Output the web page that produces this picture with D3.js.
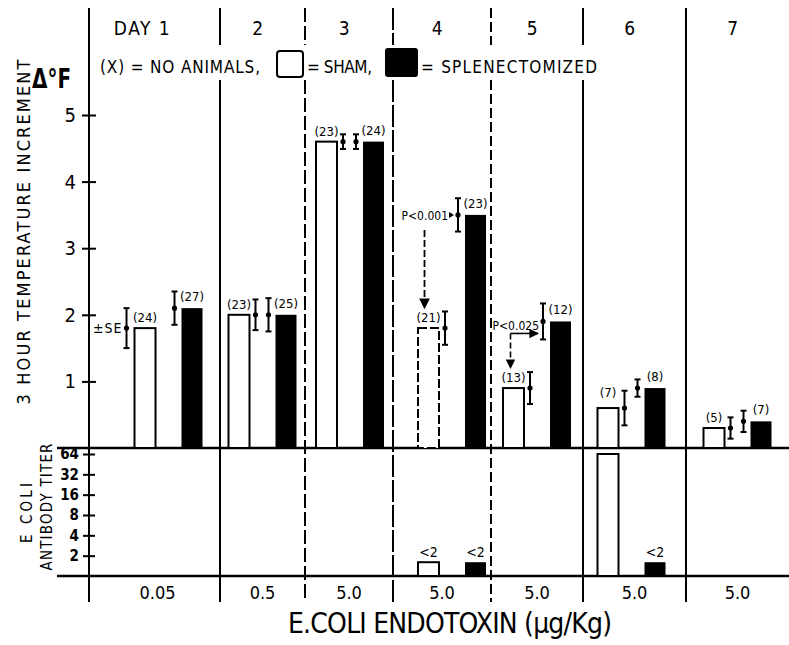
<!DOCTYPE html>
<html><head><meta charset="utf-8">
<script src="https://cdn.jsdelivr.net/npm/d3@7"></script>
<style>
html,body{margin:0;padding:0;background:#fff;}
svg{display:block;font-family:"DejaVu Sans Condensed","DejaVu Sans",sans-serif;font-stretch:condensed;}
</style></head><body>
<svg id="chart" width="789" height="645"></svg>
<script>
// ---------------- data ----------------
const dayLabels  = ["DAY 1","2","3","4","5","6","7"];
const doseLabels = ["0.05","0.5","5.0","5.0","5.0","5.0","5.0"];
const shamTemp   = [1.8, 2.0, 4.6, 1.8, 0.9, 0.6, 0.3];
const splenTemp  = [2.1, 2.0, 4.6, 3.5, 1.9, 0.9, 0.4];
const shamSE     = [0.30, 0.23, 0.11, 0.25, 0.24, 0.26, 0.16];
const splenSE    = [0.25, 0.25, 0.11, 0.25, 0.27, 0.13, 0.16];
const shamN      = [24, 23, 23, 21, 13, 7, 5];
const splenN     = [27, 25, 24, 23, 12, 8, 7];
const shamTiter  = [null, null, null, 1.6, null, 64, null];
const splenTiter = [null, null, null, 1.6, null, 1.6, null];
const tempTicks  = [1, 2, 3, 4, 5];
const titerTicks = [2, 4, 8, 16, 32, 64];
const pNotes     = [{day: 3, text: "P<0.001"}, {day: 4, text: "P<0.025"}];

// ---------------- layout ----------------
const dayWeights = [1.31, 0.85, 0.88, 0.98, 0.92, 1.03, 1.03];
const pairShift  = [14, 0, 1, 10, 0, -3, 0];
const dividerDash = [null, "14,4", "22,3", "10,4", null, null];
const barW = 21, pairHalf = 23.5;

const svg = d3.select("#chart");
const edges = [0]; dayWeights.forEach(w => edges.push(edges[edges.length-1] + w));
const x = d3.scaleLinear().domain([0, 7]).range([89, 789]);
const y = d3.scaleLinear().domain([0, 5]).range([448, 115]);
const yT = d3.scaleLog().base(2).domain([1, 64]).range([576, 454]);

const center = i => x((edges[i] + edges[i+1]) / 2);
const shamC = i => center(i) + pairShift[i] - pairHalf;
const splenC = i => center(i) + pairShift[i] + pairHalf;
const idx = d3.range(7);

// horizontal panel lines
svg.append("line").attr("x1", 57).attr("x2", 789).attr("y1", y(0)).attr("y2", y(0))
  .attr("stroke", "#000").attr("stroke-width", 2.5);
svg.append("line").attr("x1", 57).attr("x2", 789).attr("y1", yT(1)).attr("y2", yT(1))
  .attr("stroke", "#000").attr("stroke-width", 2.5);

// main vertical axis line
svg.append("line").attr("x1", x(0)).attr("x2", x(0)).attr("y1", 8).attr("y2", 602)
  .attr("stroke", "#000").attr("stroke-width", 2);

// day dividers
edges.slice(1, 7).forEach((e, k) => {
  const segs = k < 5 ? [[8, 45], [80, 602]] : [[8, 602]];
  segs.forEach(s => {
    svg.append("line").attr("x1", x(e)).attr("x2", x(e)).attr("y1", s[0]).attr("y2", s[1])
      .attr("stroke", "#000").attr("stroke-width", 2)
      .attr("stroke-dasharray", dividerDash[k]);
  });
});

// axes
const gy = svg.append("g").attr("transform", `translate(${x(0)},0)`)
  .call(d3.axisLeft(y).tickValues(tempTicks).tickSize(7).tickPadding(6).tickFormat(d3.format("d")));
gy.select(".domain").remove();
gy.selectAll(".tick line").attr("x1", 7).attr("stroke", "#000").attr("stroke-width", 2);
gy.selectAll(".tick text").attr("font-size", 20).attr("fill", "#000")
  .attr("font-family", "DejaVu Sans Condensed, DejaVu Sans, sans-serif");

const gt = svg.append("g").attr("transform", `translate(${x(0)},0)`)
  .call(d3.axisLeft(yT).tickValues(titerTicks).tickSize(6).tickPadding(4).tickFormat(d => d));
gt.select(".domain").remove();
gt.selectAll(".tick line").attr("x1", 6).attr("stroke", "#000").attr("stroke-width", 2);
gt.selectAll(".tick text").attr("font-size", 15).attr("font-weight", "bold").attr("fill", "#000")
  .attr("font-family", "DejaVu Sans Condensed, DejaVu Sans, sans-serif");

// temperature bars
svg.append("g").selectAll("rect.sham").data(idx).join("rect")
  .attr("x", i => shamC(i) - barW/2).attr("width", barW)
  .attr("y", i => y(shamTemp[i])).attr("height", i => y(0) - y(shamTemp[i]))
  .attr("fill", "#fff").attr("stroke", "#000").attr("stroke-width", 2)
  .attr("stroke-dasharray", i => i === 3 ? "9,3" : null);
svg.append("g").selectAll("rect").data(idx).join("rect")
  .attr("x", i => splenC(i) - barW/2).attr("width", barW)
  .attr("y", i => y(splenTemp[i])).attr("height", i => y(0) - y(splenTemp[i]))
  .attr("fill", "#000");

// error bars
function errBar(cx, v, se) {
  const g = svg.append("g").attr("stroke", "#000").attr("stroke-width", 2);
  g.append("line").attr("x1", cx).attr("x2", cx).attr("y1", y(v + se)).attr("y2", y(v - se));
  g.append("line").attr("x1", cx - 3).attr("x2", cx + 3).attr("y1", y(v + se)).attr("y2", y(v + se));
  g.append("line").attr("x1", cx - 3).attr("x2", cx + 3).attr("y1", y(v - se)).attr("y2", y(v - se));
  g.append("circle").attr("cx", cx).attr("cy", y(v)).attr("r", 2.6).attr("fill", "#000").attr("stroke", "none");
}
const shamErrX = i => i === 0 ? shamC(i) - barW/2 - 8 : shamC(i) + barW/2 + 6;
const splenErrX = i => splenC(i) - barW/2 - 7;
idx.forEach(i => {
  errBar(shamErrX(i), shamTemp[i], shamSE[i]);
  errBar(splenErrX(i), splenTemp[i], splenSE[i]);
});

// N labels
const nFont = 13;
svg.append("g").selectAll("text").data(idx).join("text")
  .attr("x", i => shamC(i)).attr("y", i => y(shamTemp[i]) - 6 - (i === 5 ? 5 : 0))
  .attr("text-anchor", "middle").attr("font-size", nFont).text(i => `(${shamN[i]})`);
svg.append("g").selectAll("text").data(idx).join("text")
  .attr("x", i => splenC(i)).attr("y", i => y(splenTemp[i]) - 7)
  .attr("text-anchor", "middle").attr("font-size", nFont).text(i => `(${splenN[i]})`);

// ±SE
svg.append("text").attr("x", x(0) + 4).attr("y", y(shamTemp[0]) + 5)
  .attr("font-size", 14).attr("letter-spacing", 1).text("±SE");

// P annotations
svg.append("defs").append("marker").attr("id", "ah").attr("viewBox", "0 0 10 10")
  .attr("refX", 9).attr("refY", 5).attr("markerWidth", 6).attr("markerHeight", 6)
  .attr("orient", "auto-start-reverse")
  .append("path").attr("d", "M0,0 L10,5 L0,10 z").attr("fill", "#000");

pNotes.forEach(p => {
  const i = p.day;
  if (i === 3) {
    svg.append("text").attr("x", splenErrX(i) - 10).attr("y", y(splenTemp[i]) + 5)
      .attr("text-anchor", "end").attr("font-size", 12).text(p.text);
    svg.append("path").attr("d", `M${splenErrX(i)-9},${y(splenTemp[i])-3} l5,3 l-5,3 z`).attr("fill", "#000");
    svg.append("line").attr("x1", shamC(i) - 4).attr("x2", shamC(i) - 4)
      .attr("y1", y(splenTemp[i]) + 15).attr("y2", y(shamTemp[i]) - 20)
      .attr("stroke", "#000").attr("stroke-width", 1.8).attr("stroke-dasharray", "7,3")
      .attr("marker-end", "url(#ah)");
  } else {
    const yy = y(splenTemp[i]) + 12;
    svg.append("text").attr("x", splenErrX(i) - 4).attr("y", y(splenTemp[i]) + 9)
      .attr("text-anchor", "end").attr("font-size", 12).text(p.text);
    svg.append("line").attr("x1", shamC(i) - 3).attr("x2", splenErrX(i) - 5)
      .attr("y1", yy).attr("y2", yy)
      .attr("stroke", "#000").attr("stroke-width", 1.6).attr("marker-end", "url(#ah)");
    svg.append("line").attr("x1", shamC(i) - 3).attr("x2", shamC(i) - 3)
      .attr("y1", yy).attr("y2", y(shamTemp[i]) - 20)
      .attr("stroke", "#000").attr("stroke-width", 1.6).attr("stroke-dasharray", "6,3")
      .attr("marker-end", "url(#ah)");
  }
});

// titer bars
const shamT = idx.filter(i => shamTiter[i] != null);
const splenT = idx.filter(i => splenTiter[i] != null);
svg.append("g").selectAll("rect").data(shamT).join("rect")
  .attr("x", i => shamC(i) - barW/2).attr("width", barW)
  .attr("y", i => yT(shamTiter[i])).attr("height", i => yT(1) - yT(shamTiter[i]))
  .attr("fill", "#fff").attr("stroke", "#000").attr("stroke-width", 2);
svg.append("g").selectAll("rect").data(splenT).join("rect")
  .attr("x", i => splenC(i) - barW/2).attr("width", barW)
  .attr("y", i => yT(splenTiter[i])).attr("height", i => yT(1) - yT(splenTiter[i]))
  .attr("fill", "#000");
svg.append("g").selectAll("text").data(shamT.filter(i => shamTiter[i] < 2)).join("text")
  .attr("x", i => shamC(i)).attr("y", i => yT(shamTiter[i]) - 5)
  .attr("text-anchor", "middle").attr("font-size", 14).text("<2");
svg.append("g").selectAll("text").data(splenT.filter(i => splenTiter[i] < 2)).join("text")
  .attr("x", i => splenC(i)).attr("y", i => yT(splenTiter[i]) - 5)
  .attr("text-anchor", "middle").attr("font-size", 14).text("<2");

// day labels and dose labels
svg.append("g").selectAll("text").data(idx).join("text")
  .attr("x", i => center(i) - (i === 0 ? 12 : 4)).attr("y", 35)
  .attr("text-anchor", "middle").attr("font-size", 19).attr("letter-spacing", 1.5)
  .text(i => dayLabels[i]);
svg.append("g").selectAll("text").data(idx).join("text")
  .attr("x", i => center(i) + (i === 0 ? 3 : 0)).attr("y", 599)
  .attr("text-anchor", "middle").attr("font-size", 18)
  .text(i => doseLabels[i]);

// legend
svg.append("text").attr("x", 100).attr("y", 73).attr("font-size", 17)
  .attr("textLength", 160).attr("lengthAdjust", "spacing").text("(X) = NO ANIMALS,");
svg.append("rect").attr("x", 277).attr("y", 51).attr("width", 26).attr("height", 26).attr("rx", 3)
  .attr("fill", "#fff").attr("stroke", "#000").attr("stroke-width", 2);
svg.append("text").attr("x", 307).attr("y", 73).attr("font-size", 17)
  .attr("textLength", 65).attr("lengthAdjust", "spacing").text("= SHAM,");
svg.append("rect").attr("x", 385).attr("y", 48).attr("width", 33).attr("height", 29).attr("rx", 3)
  .attr("fill", "#000");
svg.append("text").attr("x", 421).attr("y", 73).attr("font-size", 17)
  .attr("textLength", 176).attr("lengthAdjust", "spacing").text("= SPLENECTOMIZED");

// axis titles
svg.append("text").attr("transform", "translate(30,232) rotate(-90)")
  .attr("text-anchor", "middle").attr("font-size", 18)
  .attr("textLength", 345).attr("lengthAdjust", "spacing").text("3 HOUR TEMPERATURE INCREMENT");
svg.append("text").attr("x", 32).attr("y", 88).attr("font-size", 26).attr("font-weight", "bold")
  .attr("textLength", 39).attr("lengthAdjust", "spacingAndGlyphs").text("Δ°F");
svg.append("text").attr("transform", "translate(32,513) rotate(-90)")
  .attr("text-anchor", "middle").attr("font-size", 15)
  .attr("textLength", 60).attr("lengthAdjust", "spacing").text("E COLI");
svg.append("text").attr("transform", "translate(52,507) rotate(-90)")
  .attr("text-anchor", "middle").attr("font-size", 15)
  .attr("textLength", 127).attr("lengthAdjust", "spacing").text("ANTIBODY TITER");
svg.append("text").attr("x", 450).attr("y", 633)
  .attr("text-anchor", "middle").attr("font-size", 28)
  .attr("textLength", 324).attr("lengthAdjust", "spacing").text("E.COLI ENDOTOXIN (µg/Kg)");
</script>
</body></html>
